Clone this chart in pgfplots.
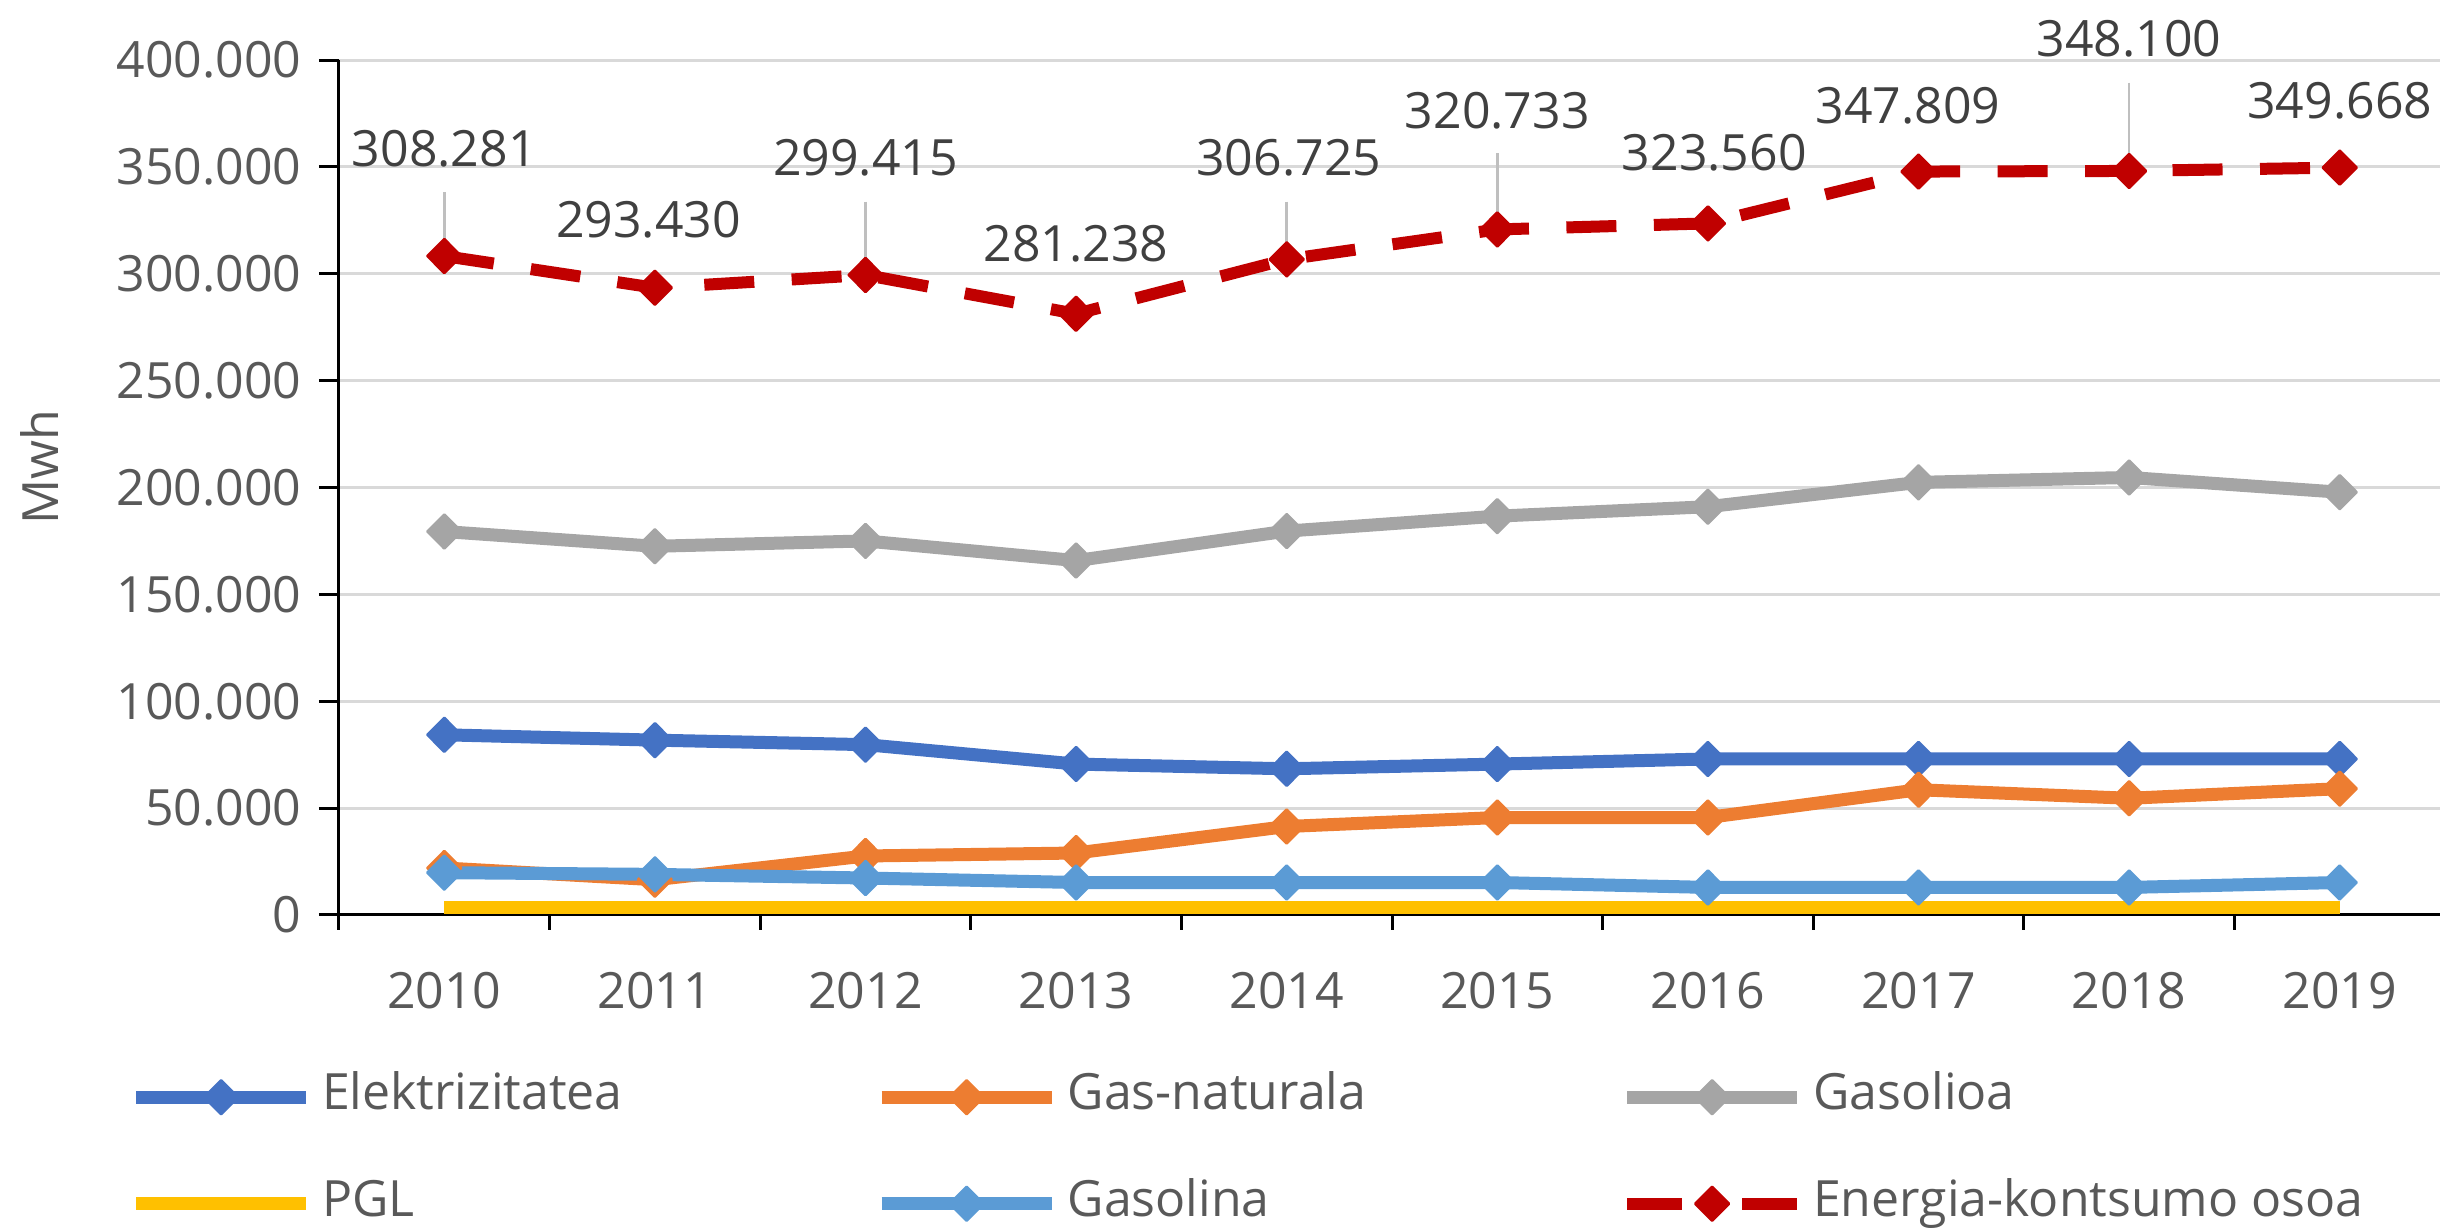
\documentclass[border=0pt]{standalone}
\usepackage{fontspec}
\setmainfont{Open Sans}
\usepackage{pgfplots}
\pgfplotsset{compat=1.18}
\definecolor{cElek}{HTML}{4472C4}
\definecolor{cGas}{HTML}{ED7D31}
\definecolor{cGasolio}{HTML}{A5A5A5}
\definecolor{cPGL}{HTML}{FFC000}
\definecolor{cGasolina}{HTML}{5B9BD5}
\definecolor{cTot}{HTML}{C00000}
\definecolor{gridgray}{HTML}{D9D9D9}
\definecolor{tickgray}{HTML}{595959}
\definecolor{labelgray}{HTML}{404040}
\definecolor{leadergray}{HTML}{BFBFBF}
\begin{document}
\begin{tikzpicture}
\path[use as bounding box] (-67.8pt,-62.6pt) rectangle (420.2pt,183pt);
\begin{axis}[
  at={(0,0)}, anchor=south west,
  scale only axis, width=421.2pt, height=171pt,
  xmin=-0.5, xmax=9.5, ymin=0, ymax=400000,
  clip=false,
  axis lines=left,
  axis line style={-, black, line width=0.6pt},
  tick align=outside,
  xtick={0,1,2,3,4,5,6,7,8,9},
  xticklabels={2010,2011,2012,2013,2014,2015,2016,2017,2018,2019},
  minor xtick={-0.5,0.5,1.5,2.5,3.5,4.5,5.5,6.5,7.5,8.5,9.5},
  major x tick style={draw=none},
  minor x tick style={black, line width=0.6pt},
  minor tick length=3pt,
  ytick={0,50000,100000,150000,200000,250000,300000,350000,400000},
  major y tick style={black, line width=0.6pt},
  major tick length=4pt,
  scaled y ticks=false,
  ymajorgrids=true,
  major grid style={draw=gridgray, line width=0.6pt},
  yticklabel style={/pgf/number format/.cd, 1000 sep={.}, fixed, precision=0, assume math mode=true},
  ticklabel style={text=tickgray},
  xticklabel style={yshift=-4pt},
  ylabel={Mwh},
  ylabel style={at={(axis description cs:-0.1420,0.524)}, anchor=center, text=tickgray},
  legend columns=3,
  legend cell align=left,
  legend style={at={(-0.0994,-0.184)}, anchor=north west, draw=none, fill=none,
    inner sep=0pt, outer sep=0pt, row sep=11.3pt,
    nodes={inner sep=0pt, text height=7.5pt, text depth=2.5pt, text=tickgray},
    /tikz/every odd column/.append style={column sep=1.9pt}},
  legend image code/.code={\draw[mark repeat=2,mark phase=2,#1] plot coordinates {(0pt,0pt) (17pt,0pt) (34pt,0pt)};},
  every axis plot/.append style={line width=2.6pt, line join=round, line cap=butt},
]
\addplot[cElek, mark=diamond*, mark size=3.4pt, mark options={solid, xscale=1.33, line width=0.5pt}] coordinates {
 (0,84300) (1,81800) (2,79700) (3,70600) (4,68400) (5,70600) (6,73000) (7,73000) (8,73000) (9,73000)};
\addlegendentry{\makebox[110.6pt][l]{Elektrizitatea}}
\addplot[cGas, mark=diamond*, mark size=3.4pt, mark options={solid, xscale=1.33, line width=0.5pt}] coordinates {
 (0,22000) (1,16500) (2,27600) (3,29000) (4,41400) (5,45600) (6,45600) (7,58600) (8,54600) (9,59100)};
\addlegendentry{\makebox[110.6pt][l]{Gas-naturala}}
\addplot[cGasolio, mark=diamond*, mark size=3.4pt, mark options={solid, xscale=1.33, line width=0.5pt}] coordinates {
 (0,179400) (1,172500) (2,175000) (3,165800) (4,179600) (5,186600) (6,191000) (7,202400) (8,204700) (9,197800)};
\addlegendentry{\makebox[110.6pt][l]{Gasolioa}}
\addplot[cPGL, no marks] coordinates {
 (0,3500) (1,3500) (2,3500) (3,3500) (4,3500) (5,3500) (6,3500) (7,3500) (8,3500) (9,3500)};
\addlegendentry{\makebox[110.6pt][l]{PGL}}
\addplot[cGasolina, mark=diamond*, mark size=3.4pt, mark options={solid, xscale=1.33, line width=0.5pt}] coordinates {
 (0,19800) (1,19000) (2,17300) (3,15200) (4,15200) (5,15200) (6,12900) (7,12900) (8,12900) (9,15200)};
\addlegendentry{\makebox[110.6pt][l]{Gasolina}}
% leader lines
\draw[leadergray, line width=0.5pt] (axis cs:0,338200) -- (axis cs:0,310000);
\draw[leadergray, line width=0.5pt] (axis cs:2,333700) -- (axis cs:2,301000);
\draw[leadergray, line width=0.5pt] (axis cs:4,333700) -- (axis cs:4,308000);
\draw[leadergray, line width=0.5pt] (axis cs:5,356300) -- (axis cs:5,322000);
\draw[leadergray, line width=0.5pt] (axis cs:8,389400) -- (axis cs:8,350000);
\addplot[cTot, line width=2.4pt, dash pattern=on 10pt off 7.5pt, mark=diamond*, mark size=3.4pt, mark options={solid, xscale=1.33, line width=0.5pt}, forget plot] coordinates {
 (0,308281) (1,293430) (2,299415) (3,281238) (4,306725) (5,320733) (6,323560) (7,347809) (8,348100) (9,349668)};
\addlegendimage{cTot, line width=2.4pt, dash pattern=on 11pt off 12pt, mark=diamond*, mark size=3.4pt, mark options={solid, xscale=1.33, line width=0.5pt}}
\addlegendentry{\makebox[110.6pt][l]{Energia-kontsumo osoa}}
% data labels
\node[text=labelgray] at (axis cs:0,358400) {308.281};
\node[text=labelgray] at (axis cs:0.97,325400) {293.430};
\node[text=labelgray] at (axis cs:2.0,354200) {299.415};
\node[text=labelgray] at (axis cs:3.0,313900) {281.238};
\node[text=labelgray] at (axis cs:4.01,354200) {306.725};
\node[text=labelgray] at (axis cs:5.0,376100) {320.733};
\node[text=labelgray] at (axis cs:6.03,356500) {323.560};
\node[text=labelgray] at (axis cs:6.95,378500) {347.809};
\node[text=labelgray] at (axis cs:8.0,409800) {348.100};
\node[text=labelgray] at (axis cs:9.0,380800) {349.668};
\end{axis}
\end{tikzpicture}
\end{document}
